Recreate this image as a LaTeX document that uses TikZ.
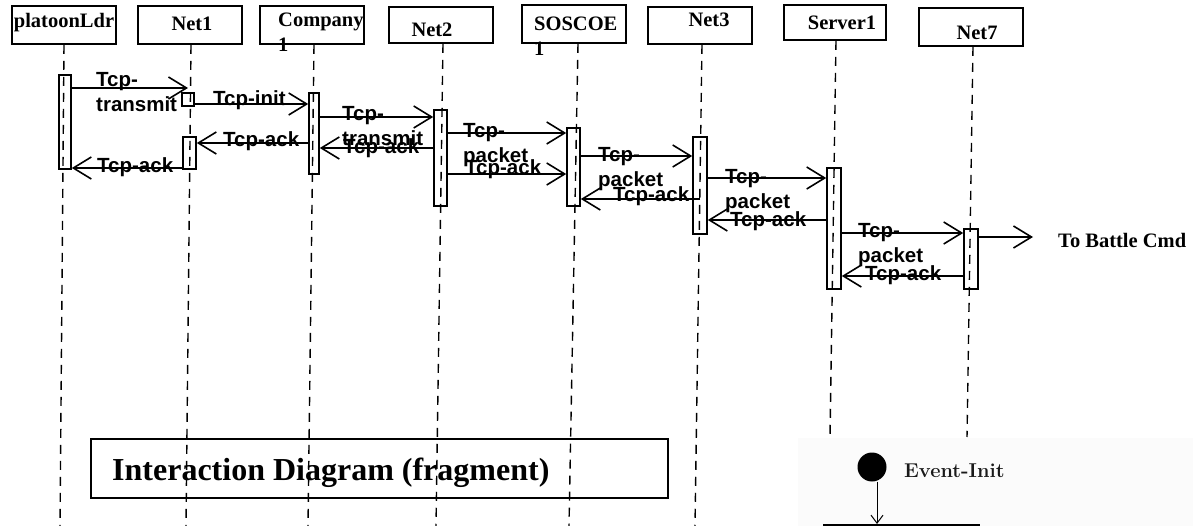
\documentclass[tikz,border=0pt]{standalone}
\usepackage{fontspec}
\newfontfamily\tms{Liberation Serif}
\newfontfamily\arl{Liberation Sans}
\usetikzlibrary{arrows.meta}
\begin{document}
\begin{tikzpicture}[x=1pt,y=-1pt,
  hbox/.style={draw, line width=1.6pt, minimum width=104pt, minimum height=38pt, inner sep=0pt},
  htext/.style={font=\tms\bfseries\fontsize{20.5}{25}\selectfont, inner sep=0pt, anchor=base},
  life/.style={line width=1.4pt, dash pattern=on 9pt off 7pt},
  act/.style={draw, line width=1.6pt, minimum width=12pt, inner sep=0pt},
  msg/.style={line width=1.6pt, -{Straight Barb[length=18pt,width=22pt,line width=1.6pt]}},
  lbl/.style={font=\arl\bfseries\fontsize{20.5}{25}\selectfont, inner sep=0pt, anchor=base west, align=left},
]
\useasboundingbox (0,0) rectangle (1193,526);

% header boxes
\node[hbox] (hP) at (64,25) {};
\node[hbox] (hN1) at (190,25) {};
\node[hbox] (hC) at (312,25) {};
\node[hbox, minimum height=36pt] (hN2) at (441,25) {};
\node[hbox] (hS) at (574,24) {};
\node[hbox, minimum height=37pt] (hN3) at (700,25.5) {};
\node[hbox, minimum width=102pt, minimum height=35pt] (hSv) at (835,22.5) {};
\node[hbox] (hN7) at (971,27) {};

% header texts
\node[htext] at (64,28) {platoonLdr};
\node[htext] at (192,31) {Net1};
\node[htext, anchor=base west, align=left] at (278,52) {Company\\1};
\node[htext] at (432,37) {Net2};
\node[htext, anchor=base west, align=left] at (534,56) {SOSCOE\\1};
\node[htext] at (709,27) {Net3};
\node[htext] at (842,30) {Server1};
\node[htext] at (977,40) {Net7};

% lifeline ends
\coordinate (bP) at (60,526);
\coordinate (bN1) at (186,526);
\coordinate (bC) at (308,526);
\coordinate (bN2) at (436,526);
\coordinate (bS) at (569,526);
\coordinate (bN3) at (695,526);
\coordinate (bSv) at (830,437);
\coordinate (bN7) at (967,437);

% title box (behind lifelines)
\node[draw, line width=1.6pt, minimum width=577pt, minimum height=59pt, inner sep=0pt] (title) at (379.5,468.5) {};
\node[font=\tms\bfseries\fontsize{32}{36}\selectfont, anchor=base west, inner sep=0pt] (titletext) at (112,480) {Interaction Diagram (fragment)};

% lifelines
\draw[life] (hP.south -| 64,0) -- (bP);
\draw[life] (hN1.south -| 191,0) -- (bN1);
\draw[life] (hC.south -| 314,0) -- (bC);
\draw[life] (hN2.south -| 443,0) -- (bN2);
\draw[life] (hS.south -| 578,0) -- (bS);
\draw[life] (hN3.south -| 702,0) -- (bN3);
\draw[life] (hSv.south -| 836,0) -- (bSv);
\draw[life] (hN7.south -| 973,0) -- (bN7);

% activation boxes
\node[act, minimum width=12pt, minimum height=94pt] (aP) at (65,122) {};
\node[act, minimum width=12pt, minimum height=13pt] (aN1a) at (188,99.5) {};
\node[act, minimum width=13pt, minimum height=32pt] (aN1b) at (189.5,153) {};
\node[act, minimum width=10pt, minimum height=81pt] (aC) at (314,133.5) {};
\node[act, minimum width=13pt, minimum height=96pt] (aN2) at (440.5,158) {};
\node[act, minimum width=13pt, minimum height=78pt] (aS) at (573.5,167) {};
\node[act, minimum width=14pt, minimum height=97pt] (aN3) at (700,185.5) {};
\node[act, minimum width=14pt, minimum height=121pt] (aSv) at (834,228.5) {};
\node[act, minimum width=14pt, minimum height=60pt] (aN7) at (971,259) {};

% messages
\draw[msg] (aP.east |- 0,88) -- (aN1a.north |- 0,88);
\draw[msg] (aN1a.east |- 0,104) -- (aC.west |- 0,104);
\draw[msg] (aC.east |- 0,117) -- (aN2.west |- 0,117);
\draw[msg] (aN2.west |- 0,148) -- (aC.east |- 0,148);
\draw[msg] (aC.west |- 0,143) -- (aN1b.east |- 0,143);
\draw[msg] (aN1b.west |- 0,168) -- (aP.east |- 0,168);
\draw[msg] (aN2.east |- 0,133) -- (aS.west |- 0,133);
\draw[msg] (aN2.east |- 0,174) -- (aS.west |- 0,174);
\draw[msg] (aS.east |- 0,156) -- (aN3.west |- 0,156);
\draw[msg] (aN3.center |- 0,199) -- (aS.east |- 0,199);
\draw[msg] (aN3.east |- 0,178) -- (aSv.west |- 0,178);
\draw[msg] (aSv.west |- 0,220) -- (aN3.east |- 0,220);
\draw[msg] (aSv.east |- 0,233) -- (aN7.west |- 0,233);
\draw[msg] (aN7.west |- 0,276) -- (aSv.east |- 0,276);
\node[htext, anchor=base west] (tbc) at (1058,248) {To Battle Cmd};
\coordinate (out) at (1033,237);
\draw[msg] (aN7.east |- 0,237) -- (out);

% labels (anchor = baseline of last line)
\node[lbl] at (96,112) {Tcp-\\transmit};
\node[lbl] at (213,106) {Tcp-init};
\node[lbl] at (342,146) {Tcp-\\transmit};
\node[lbl] at (343,154) {Tcp-ack};
\node[lbl] at (223,147) {Tcp-ack};
\node[lbl] at (97,173) {Tcp-ack};
\node[lbl] at (463,163) {Tcp-\\packet};
\node[lbl] at (465,175) {Tcp-ack};
\node[lbl] at (598,187) {Tcp-\\packet};
\node[lbl] at (613,202) {Tcp-ack};
\node[lbl] at (725,209) {Tcp-\\packet};
\node[lbl] at (730,227) {Tcp-ack};
\node[lbl] at (858,263) {Tcp-\\packet};
\node[lbl] at (865,281) {Tcp-ack};

% pasted state-chart fragment
\fill[black!1.5] (798,438) rectangle (1193,526);
\node[circle, fill=black, minimum size=29pt, inner sep=0pt] (ev) at (872,467) {};
\node[font=\bfseries\fontsize{20}{24}\selectfont, text=black!90, anchor=base west, inner sep=0pt] (evt) at (904,477) {Event-Init};
\coordinate (evb) at (877,524);
\draw[line width=1pt, -{Straight Barb[length=8pt,width=12pt,line width=1pt]}] (ev.south -| 877,0) -- (evb);
\coordinate (bl) at (823,525);
\coordinate (br) at (980,525);
\draw[line width=2pt] (bl) -- (br);
\end{tikzpicture}
\end{document}
